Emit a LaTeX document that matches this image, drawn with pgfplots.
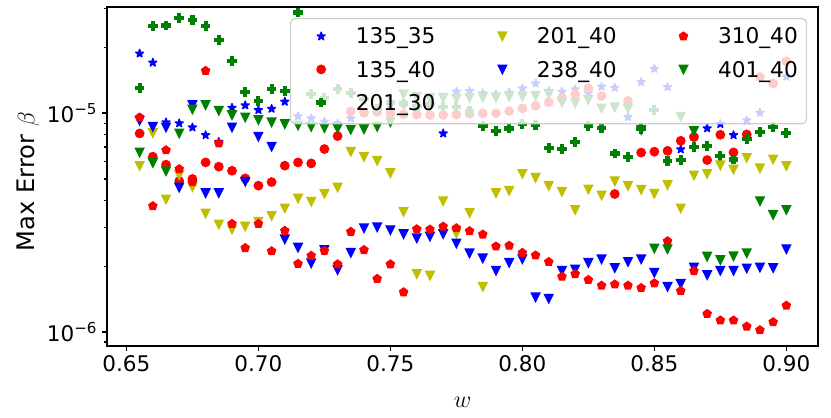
\documentclass[border=0pt]{standalone}
\usepackage{fontspec}
\setmainfont{DejaVu Sans}
\usepackage{pgfplots}
\pgfplotsset{compat=1.18}
\usepackage{pgfplotstable}
\usetikzlibrary{plotmarks}
\definecolor{mplg}{rgb}{0,0.5,0}
\definecolor{mply}{rgb}{0.75,0.75,0}

\pgfdeclareplotmark{fstar}{%
 \pgfpathmoveto{\pgfqpoint{0pt}{\pgfplotmarksize}}%
 \pgfpathlineto{\pgfqpoint{-0.2245\pgfplotmarksize}{0.309\pgfplotmarksize}}%
 \pgfpathlineto{\pgfqpoint{-0.9511\pgfplotmarksize}{0.309\pgfplotmarksize}}%
 \pgfpathlineto{\pgfqpoint{-0.3633\pgfplotmarksize}{-0.118\pgfplotmarksize}}%
 \pgfpathlineto{\pgfqpoint{-0.5878\pgfplotmarksize}{-0.809\pgfplotmarksize}}%
 \pgfpathlineto{\pgfqpoint{0pt}{-0.382\pgfplotmarksize}}%
 \pgfpathlineto{\pgfqpoint{0.5878\pgfplotmarksize}{-0.809\pgfplotmarksize}}%
 \pgfpathlineto{\pgfqpoint{0.3633\pgfplotmarksize}{-0.118\pgfplotmarksize}}%
 \pgfpathlineto{\pgfqpoint{0.9511\pgfplotmarksize}{0.309\pgfplotmarksize}}%
 \pgfpathlineto{\pgfqpoint{0.2245\pgfplotmarksize}{0.309\pgfplotmarksize}}%
 \pgfpathclose\pgfsetroundjoin\pgfusepathqfillstroke}
\pgfdeclareplotmark{fplus}{%
 \pgfpathmoveto{\pgfqpoint{-0.3333\pgfplotmarksize}{-\pgfplotmarksize}}%
 \pgfpathlineto{\pgfqpoint{0.3333\pgfplotmarksize}{-\pgfplotmarksize}}%
 \pgfpathlineto{\pgfqpoint{0.3333\pgfplotmarksize}{-0.3333\pgfplotmarksize}}%
 \pgfpathlineto{\pgfqpoint{\pgfplotmarksize}{-0.3333\pgfplotmarksize}}%
 \pgfpathlineto{\pgfqpoint{\pgfplotmarksize}{0.3333\pgfplotmarksize}}%
 \pgfpathlineto{\pgfqpoint{0.3333\pgfplotmarksize}{0.3333\pgfplotmarksize}}%
 \pgfpathlineto{\pgfqpoint{0.3333\pgfplotmarksize}{\pgfplotmarksize}}%
 \pgfpathlineto{\pgfqpoint{-0.3333\pgfplotmarksize}{\pgfplotmarksize}}%
 \pgfpathlineto{\pgfqpoint{-0.3333\pgfplotmarksize}{0.3333\pgfplotmarksize}}%
 \pgfpathlineto{\pgfqpoint{-\pgfplotmarksize}{0.3333\pgfplotmarksize}}%
 \pgfpathlineto{\pgfqpoint{-\pgfplotmarksize}{-0.3333\pgfplotmarksize}}%
 \pgfpathlineto{\pgfqpoint{-0.3333\pgfplotmarksize}{-0.3333\pgfplotmarksize}}%
 \pgfpathclose\pgfusepathqfillstroke}
\pgfdeclareplotmark{tridown}{%
 \pgfpathmoveto{\pgfqpoint{0pt}{-\pgfplotmarksize}}%
 \pgfpathlineto{\pgfqpoint{-\pgfplotmarksize}{\pgfplotmarksize}}%
 \pgfpathlineto{\pgfqpoint{\pgfplotmarksize}{\pgfplotmarksize}}%
 \pgfpathclose\pgfusepathqfillstroke}

% w, 135_35 (a), 135_40 (b), 201_30 (c), 201_40 (d), 238_40 (e), 310_40 (f), 401_40 (g)
\pgfplotstableread{
w a b c d e f g
0.655 18.7e-6 8.07e-6 12.97e-6 5.73e-6 9.22e-6 9.55e-6 6.61e-6
0.660 17.0e-6 6.32e-6 25.0e-6 8.10e-6 8.65e-6 3.76e-6 5.92e-6
0.665 9.07e-6 5.81e-6 25.1e-6 4.03e-6 8.60e-6 6.77e-6 5.43e-6
0.670 8.98e-6 4.89e-6 27.1e-6 5.21e-6 4.57e-6 5.55e-6 8.07e-6
0.675 8.60e-6 5.00e-6 26.6e-6 4.59e-6 10.88e-6 4.84e-6 10.39e-6
0.680 7.93e-6 5.95e-6 24.9e-6 3.48e-6 4.31e-6 15.6e-6 10.88e-6
0.685 7.39e-6 5.69e-6 21.55e-6 3.10e-6 4.31e-6 7.27e-6 10.24e-6
0.690 10.57e-6 5.45e-6 17.28e-6 2.94e-6 8.60e-6 3.12e-6 9.79e-6
0.695 10.85e-6 5.03e-6 12.51e-6 3.03e-6 4.86e-6 2.42e-6 9.55e-6
0.700 10.32e-6 4.66e-6 11.35e-6 3.19e-6 7.80e-6 3.12e-6 9.29e-6
0.705 10.46e-6 4.84e-6 12.83e-6 3.39e-6 7.02e-6 2.34e-6 9.07e-6
0.710 11.27e-6 5.75e-6 12.60e-6 3.67e-6 2.65e-6 2.90e-6 8.91e-6
0.715 9.67e-6 5.95e-6 28.8e-6 4.07e-6 2.43e-6 2.05e-6 8.77e-6
0.720 9.46e-6 5.89e-6 12.18e-6 3.94e-6 2.06e-6 2.23e-6 8.65e-6
0.725 9.13e-6 6.85e-6 11.71e-6 4.28e-6 2.37e-6 2.35e-6 8.54e-6
0.730 8.98e-6 7.85e-6 12.83e-6 4.57e-6 1.92e-6 2.04e-6 8.50e-6
0.735 9.46e-6 10.16e-6 12.38e-6 6.66e-6 2.30e-6 2.87e-6 8.40e-6
0.740 10.0e-6 10.03e-6 11.55e-6 6.30e-6 2.98e-6 2.37e-6 8.45e-6
0.745 10.1e-6 10.14e-6 10.50e-6 6.05e-6 3.01e-6 1.75e-6 8.65e-6
0.750 10.88e-6 9.97e-6 11.23e-6 5.32e-6 2.92e-6 2.04e-6 9.08e-6
0.755 11.11e-6 9.87e-6 11.0e-6 3.54e-6 2.80e-6 1.52e-6 12.18e-6
0.760 10.54e-6 9.83e-6 10.77e-6 1.84e-6 2.68e-6 2.95e-6 11.83e-6
0.765 11.0e-6 9.79e-6 10.88e-6 1.81e-6 2.73e-6 2.94e-6 11.71e-6
0.770 8.07e-6 9.79e-6 10.69e-6 3.96e-6 2.80e-6 3.03e-6 11.75e-6
0.775 12.54e-6 9.83e-6 10.69e-6 2.82e-6 2.54e-6 2.98e-6 11.65e-6
0.780 12.60e-6 9.92e-6 10.21e-6 3.50e-6 2.29e-6 2.89e-6 11.75e-6
0.785 12.31e-6 9.97e-6 8.74e-6 1.61e-6 2.17e-6 2.79e-6 11.77e-6
0.790 12.18e-6 9.97e-6 8.28e-6 4.31e-6 1.905e-6 2.46e-6 11.77e-6
0.795 12.38e-6 10.21e-6 8.50e-6 4.42e-6 2.07e-6 2.48e-6 11.87e-6
0.800 12.97e-6 10.50e-6 8.89e-6 5.27e-6 2.15e-6 2.30e-6 11.87e-6
0.805 13.65e-6 10.80e-6 8.84e-6 5.06e-6 1.44e-6 2.24e-6 12.0e-6
0.810 12.60e-6 11.21e-6 6.90e-6 4.65e-6 1.42e-6 2.09e-6 12.18e-6
0.815 12.51e-6 11.71e-6 6.85e-6 4.37e-6 1.905e-6 1.79e-6 11.19e-6
0.820 12.83e-6 12.18e-6 7.39e-6 3.61e-6 1.93e-6 1.84e-6 11.08e-6
0.825 12.31e-6 12.97e-6 8.73e-6 4.48e-6 2.07e-6 1.73e-6 11.50e-6
0.830 13.19e-6 11.96e-6 8.54e-6 4.20e-6 2.15e-6 1.63e-6 10.50e-6
0.835 13.05e-6 4.27e-6 6.54e-6 4.88e-6 1.96e-6 1.65e-6 10.62e-6
0.840 9.60e-6 11.37e-6 6.30e-6 4.65e-6 2.09e-6 1.63e-6 10.48e-6
0.845 13.85e-6 6.60e-6 8.45e-6 4.46e-6 2.15e-6 1.59e-6 8.36e-6
0.850 15.93e-6 6.66e-6 10.32e-6 4.28e-6 1.865e-6 1.67e-6 2.41e-6
0.855 13.15e-6 6.72e-6 6.04e-6 4.69e-6 1.61e-6 2.60e-6 2.39e-6
0.860 6.83e-6 7.47e-6 6.10e-6 3.67e-6 1.66e-6 1.54e-6 9.62e-6
0.865 7.77e-6 7.77e-6 7.02e-6 5.19e-6 1.97e-6 1.90e-6 8.28e-6
0.870 8.52e-6 6.10e-6 7.08e-6 5.27e-6 1.82e-6 1.21e-6 2.21e-6
0.875 8.91e-6 7.96e-6 6.37e-6 5.77e-6 1.905e-6 1.13e-6 2.13e-6
0.880 7.93e-6 6.61e-6 6.14e-6 5.53e-6 1.905e-6 1.13e-6 2.22e-6
0.885 9.26e-6 7.99e-6 7.64e-6 6.24e-6 1.95e-6 1.06e-6 2.29e-6
0.890 10.03e-6 14.60e-6 8.22e-6 5.59e-6 1.97e-6 1.02e-6 3.96e-6
0.895 13.70e-6 13.65e-6 8.65e-6 6.14e-6 1.96e-6 1.11e-6 3.43e-6
0.900 14.65e-6 17.23e-6 8.10e-6 5.73e-6 2.39e-6 1.32e-6 3.61e-6
}\data

\begin{document}
\begin{tikzpicture}
\path[use as bounding box] (-77.04pt,-51.12pt) rectangle (521.28pt,249.12pt);
\begin{axis}[
  scale only axis, width=511.92pt, height=244.08pt,
  xmin=0.64264, xmax=0.9120,
  ymode=log, ymin=8.63e-7, ymax=3.05e-5,
  xtick={0.65,0.7,0.75,0.8,0.85,0.9},
  x tick label style={/pgf/number format/.cd, fixed, fixed zerofill, precision=2, assume math mode=true},
  ytick={1e-6,1e-5},
  yticklabels={10\textsuperscript{−6},10\textsuperscript{−5}},
  minor ytick={9e-7,2e-6,3e-6,4e-6,5e-6,6e-6,7e-6,8e-6,9e-6,2e-5,3e-5},
  tick align=outside, tick pos=left,
  major tick length=3.5pt, minor tick length=2pt,
  tick label style={font=\fontsize{15.5}{18}\selectfont},
  every tick/.style={black, line width=0.8pt},
  axis line style={line width=0.8pt},
  xlabel={$w$}, ylabel={Max Error $\beta$},
  xlabel style={at={(axis description cs:0.5,-0.165)}, anchor=center, font=\fontsize{17}{19}\selectfont},
  ylabel style={at={(axis description cs:-0.111,0.485)}, anchor=center, font=\fontsize{17.4}{19}\selectfont},
  legend columns=3, legend cell align=left,
  legend image code/.code={\path (-15.4pt,-9.5pt) (8pt,7pt); \draw[sharp corners, fill opacity=1, draw opacity=1, line width=1pt, #1] plot coordinates {(0pt,0pt)};},
  legend style={at={(0.9845,0.9676)}, anchor=north east, draw=black!20, line width=0.8pt,
    rounded corners=3pt, fill=white, fill opacity=0.8, draw opacity=1, text opacity=1,
    inner xsep=6.2pt, inner ysep=5.4pt, font=\fontsize{15.6}{18}\selectfont,
    nodes={inner xsep=0pt, inner ysep=0pt, text height=12.5pt, text depth=1.5pt},
    row sep=6.5pt,
    /tikz/every odd column/.append style={column sep=16.5pt},
    /tikz/every even column/.append style={column sep=32.3pt}},
]
\addplot[only marks, mark=fstar, blue, mark size=3pt, line width=1pt, forget plot] table[x=w,y=a]{\data};
\addplot[only marks, mark=*, red, mark size=3pt, line width=1pt, forget plot] table[x=w,y=b]{\data};
\addplot[only marks, mark=fplus, mplg, mark size=3pt, line width=1pt, forget plot] table[x=w,y=c]{\data};
\addplot[only marks, mark=tridown, mply, mark size=3pt, line width=1pt, forget plot] table[x=w,y=d]{\data};
\addplot[only marks, mark=tridown, blue, mark size=3pt, line width=1pt, forget plot] table[x=w,y=e]{\data};
\addplot[only marks, mark=pentagon*, red, mark size=3pt, line width=1pt, forget plot] table[x=w,y=f]{\data};
\addplot[only marks, mark=tridown, mplg, mark size=3pt, line width=1pt, forget plot] table[x=w,y=g]{\data};
\addlegendimage{blue, mark=fstar, mark size=3pt}
\addlegendentry{135\_35}
\addlegendimage{mply, mark=tridown, mark size=3pt}
\addlegendentry{201\_40}
\addlegendimage{red, mark=pentagon*, mark size=3pt}
\addlegendentry{310\_40}
\addlegendimage{red, mark=*, mark size=3pt}
\addlegendentry{135\_40}
\addlegendimage{blue, mark=tridown, mark size=3pt}
\addlegendentry{238\_40}
\addlegendimage{mplg, mark=tridown, mark size=3pt}
\addlegendentry{401\_40}
\addlegendimage{mplg, mark=fplus, mark size=3pt}
\addlegendentry{201\_30}
\end{axis}
\end{tikzpicture}
\end{document}
